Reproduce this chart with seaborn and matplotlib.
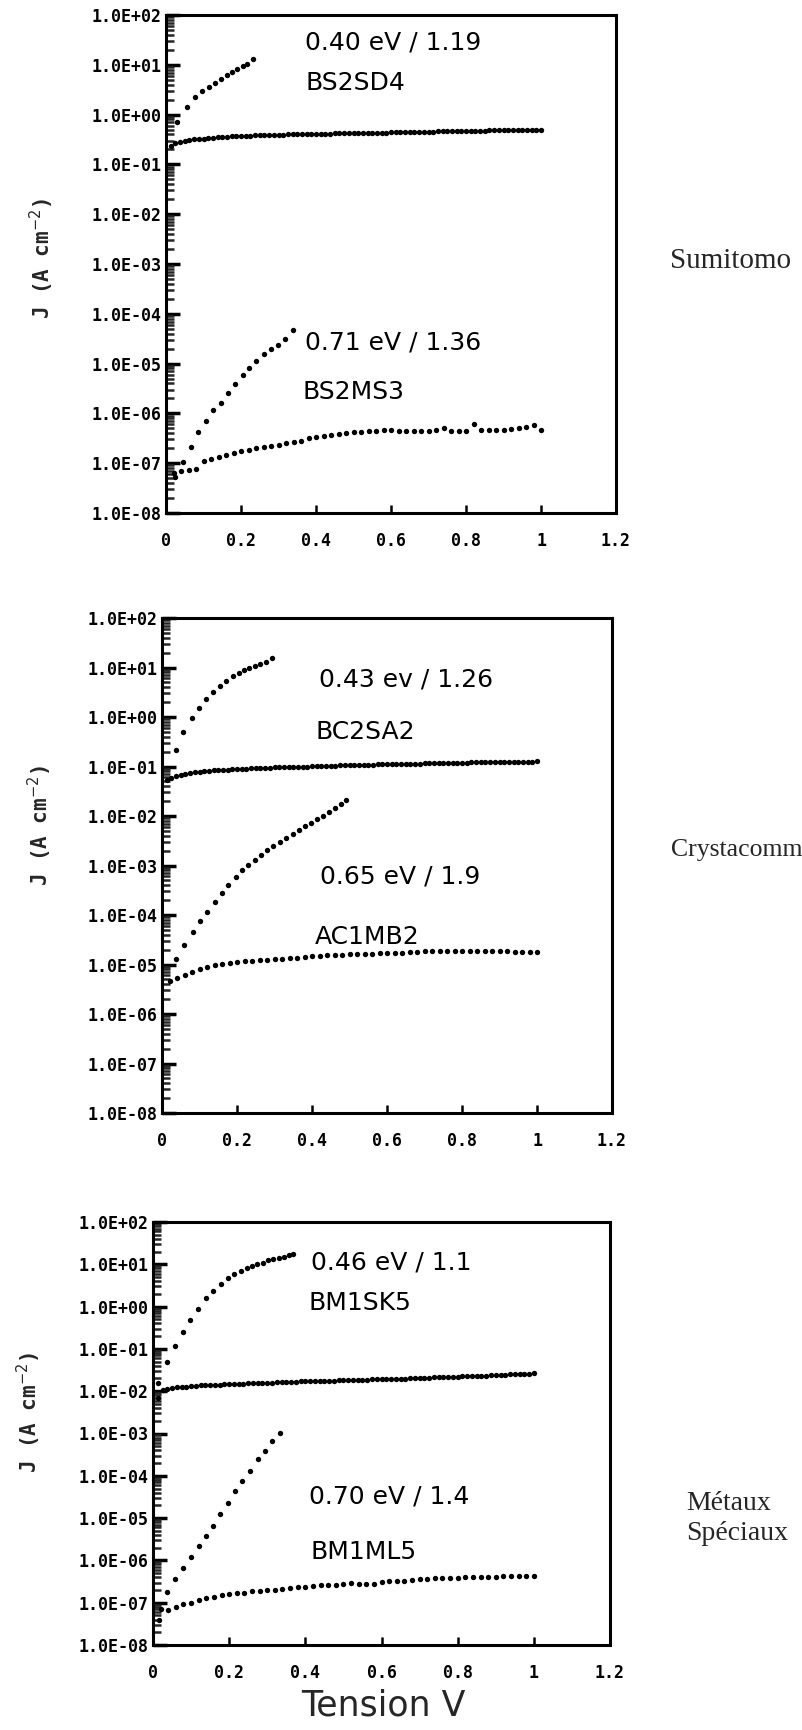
import numpy as np
import matplotlib
matplotlib.use("Agg")
import matplotlib.pyplot as plt
import seaborn as sns
from matplotlib.ticker import FixedLocator, LogLocator, NullFormatter, FuncFormatter

# voltage sweeps (V)
V_FINE = [0.0125, 0.025, 0.0375, 0.05, 0.0625, 0.075, 0.0875, 0.1, 0.1125, 0.125,
          0.1375, 0.15, 0.1625, 0.175, 0.1875, 0.2, 0.2125, 0.225, 0.2375, 0.25,
          0.2625, 0.275, 0.2875, 0.3, 0.3125, 0.325, 0.3375, 0.35, 0.3625, 0.375,
          0.3875, 0.4, 0.4125, 0.425, 0.4375, 0.45, 0.4625, 0.475, 0.4875, 0.5,
          0.5125, 0.525, 0.5375, 0.55, 0.5625, 0.575, 0.5875, 0.6, 0.6125, 0.625,
          0.6375, 0.65, 0.6625, 0.675, 0.6875, 0.7, 0.7125, 0.725, 0.7375, 0.75,
          0.7625, 0.775, 0.7875, 0.8, 0.8125, 0.825, 0.8375, 0.85, 0.8625, 0.875,
          0.8875, 0.9, 0.9125, 0.925, 0.9375, 0.95, 0.9625, 0.975, 0.9875, 1.0]
V_COARSE = [0.02, 0.04, 0.06, 0.08, 0.10, 0.12, 0.14, 0.16, 0.18, 0.20,
            0.22, 0.24, 0.26, 0.28, 0.30, 0.32, 0.34, 0.36, 0.38, 0.40,
            0.42, 0.44, 0.46, 0.48, 0.50, 0.52, 0.54, 0.56, 0.58, 0.60,
            0.62, 0.64, 0.66, 0.68, 0.70, 0.72, 0.74, 0.76, 0.78, 0.80,
            0.82, 0.84, 0.86, 0.88, 0.90, 0.92, 0.94, 0.96, 0.98, 1.00]

# --- Sumitomo (log10 J) ---
SUM_A_V = [0.03, 0.055, 0.078, 0.097, 0.114, 0.13, 0.146, 0.162, 0.177, 0.19, 0.204, 0.217, 0.232]
SUM_A_LOGJ = [-0.15, 0.15, 0.35, 0.47, 0.56, 0.63, 0.72, 0.79, 0.85, 0.92, 0.97, 1.02, 1.11]
SUM_B_LOGJ = [-0.63, -0.58, -0.55, -0.53, -0.51, -0.50, -0.49, -0.48, -0.47, -0.46,
              -0.455, -0.45, -0.44, -0.435, -0.43, -0.43, -0.42, -0.42, -0.415, -0.41,
              -0.41, -0.405, -0.40, -0.40, -0.40, -0.395, -0.395, -0.39, -0.39, -0.39,
              -0.385, -0.385, -0.38, -0.38, -0.38, -0.375, -0.375, -0.375, -0.37, -0.37,
              -0.37, -0.365, -0.365, -0.365, -0.36, -0.36, -0.36, -0.355, -0.355, -0.35,
              -0.35, -0.35, -0.345, -0.345, -0.345, -0.34, -0.34, -0.335, -0.335, -0.335,
              -0.33, -0.33, -0.33, -0.325, -0.325, -0.32, -0.32, -0.32, -0.315, -0.315,
              -0.315, -0.31, -0.31, -0.31, -0.305, -0.305, -0.305, -0.30, -0.30, -0.30]
SUM_C_V = [0.025, 0.045, 0.066, 0.085, 0.106, 0.126, 0.147, 0.166, 0.183, 0.204,
           0.221, 0.24, 0.261, 0.28, 0.299, 0.318, 0.338]
SUM_C_LOGJ = [-7.28, -6.97, -6.68, -6.38, -6.15, -5.94, -5.79, -5.59, -5.41, -5.23,
              -5.08, -4.95, -4.81, -4.71, -4.62, -4.50, -4.33]
SUM_D_LOGJ = [-7.20, -7.15, -7.13, -7.12, -6.95, -6.91, -6.87, -6.84, -6.80, -6.76,
              -6.73, -6.70, -6.68, -6.66, -6.63, -6.60, -6.57, -6.55, -6.50, -6.47,
              -6.45, -6.43, -6.41, -6.40, -6.38, -6.37, -6.36, -6.35, -6.34, -6.34,
              -6.35, -6.35, -6.35, -6.35, -6.35, -6.34, -6.30, -6.35, -6.36, -6.35,
              -6.21, -6.33, -6.34, -6.34, -6.33, -6.31, -6.30, -6.27, -6.24, -6.33]

# --- Crystacomm ---
CRY_A_V = [0.038, 0.057, 0.079, 0.098, 0.117, 0.136, 0.154, 0.171, 0.189, 0.205,
           0.219, 0.233, 0.248, 0.262, 0.276, 0.292]
CRY_A_LOGJ = [-0.66, -0.30, -0.03, 0.19, 0.36, 0.51, 0.63, 0.72, 0.82, 0.89,
              0.94, 0.99, 1.03, 1.07, 1.12, 1.20]
CRY_B_LOGJ = [-1.28, -1.23, -1.20, -1.18, -1.15, -1.13, -1.12, -1.11, -1.10, -1.09,
              -1.08, -1.075, -1.07, -1.065, -1.06, -1.055, -1.05, -1.045, -1.04, -1.04,
              -1.035, -1.03, -1.025, -1.02, -1.02, -1.015, -1.01, -1.01, -1.005, -1.0,
              -1.0, -0.995, -0.99, -0.99, -0.985, -0.98, -0.98, -0.975, -0.975, -0.97,
              -0.97, -0.965, -0.965, -0.96, -0.96, -0.955, -0.955, -0.95, -0.95, -0.95,
              -0.945, -0.945, -0.94, -0.94, -0.94, -0.935, -0.935, -0.93, -0.93, -0.93,
              -0.925, -0.925, -0.92, -0.92, -0.92, -0.915, -0.915, -0.915, -0.91, -0.91,
              -0.91, -0.91, -0.905, -0.905, -0.905, -0.90, -0.90, -0.90, -0.90, -0.895]
CRY_C_V = [0.037, 0.058, 0.082, 0.10, 0.119, 0.14, 0.16, 0.177, 0.197, 0.214,
           0.23, 0.248, 0.265, 0.281, 0.297, 0.314, 0.331, 0.348, 0.365, 0.381,
           0.397, 0.412, 0.429, 0.445, 0.46, 0.476, 0.49]
CRY_C_LOGJ = [-4.89, -4.61, -4.35, -4.13, -3.93, -3.74, -3.56, -3.39, -3.24, -3.10,
              -2.98, -2.88, -2.78, -2.69, -2.61, -2.53, -2.45, -2.37, -2.29, -2.21,
              -2.14, -2.07, -1.99, -1.91, -1.83, -1.75, -1.67]
CRY_D_LOGJ = [-5.34, -5.28, -5.21, -5.15, -5.09, -5.05, -5.01, -4.98, -4.96, -4.94,
              -4.93, -4.92, -4.91, -4.90, -4.89, -4.88, -4.87, -4.86, -4.85, -4.83,
              -4.82, -4.81, -4.80, -4.80, -4.79, -4.79, -4.78, -4.78, -4.77, -4.77,
              -4.76, -4.76, -4.75, -4.74, -4.73, -4.73, -4.72, -4.72, -4.72, -4.72,
              -4.72, -4.72, -4.73, -4.73, -4.73, -4.73, -4.74, -4.74, -4.74, -4.74]

# --- Metaux Speciaux ---
MET_A_V = [0.014, 0.037, 0.058, 0.078, 0.098, 0.117, 0.138, 0.157, 0.178, 0.197, 0.214,
           0.23, 0.246, 0.26, 0.274, 0.288, 0.302, 0.316, 0.33, 0.344, 0.358, 0.368]
MET_A_LOGJ = [-1.80, -1.32, -0.94, -0.61, -0.31, -0.06, 0.20, 0.37, 0.53, 0.67, 0.76,
              0.85, 0.91, 0.96, 1.00, 1.04, 1.09, 1.12, 1.15, 1.18, 1.21, 1.24]
MET_B_LOGJ = [-2.15, -1.96, -1.94, -1.92, -1.91, -1.90, -1.89, -1.88, -1.87, -1.865,
              -1.86, -1.855, -1.85, -1.845, -1.84, -1.835, -1.83, -1.825, -1.82, -1.815,
              -1.81, -1.805, -1.80, -1.80, -1.795, -1.79, -1.785, -1.78, -1.78, -1.775,
              -1.77, -1.77, -1.765, -1.76, -1.76, -1.755, -1.75, -1.75, -1.745, -1.74,
              -1.74, -1.735, -1.73, -1.73, -1.725, -1.72, -1.72, -1.715, -1.71, -1.71,
              -1.705, -1.70, -1.70, -1.695, -1.69, -1.685, -1.68, -1.68, -1.675, -1.67,
              -1.665, -1.66, -1.66, -1.655, -1.65, -1.645, -1.64, -1.64, -1.635, -1.63,
              -1.625, -1.62, -1.615, -1.61, -1.605, -1.60, -1.595, -1.59, -1.585, -1.58]
MET_C_V = [0.016, 0.036, 0.057, 0.078, 0.099, 0.12, 0.139, 0.158, 0.177, 0.196,
           0.215, 0.234, 0.255, 0.275, 0.293, 0.312, 0.333]
MET_C_LOGJ = [-7.40, -6.74, -6.44, -6.18, -5.92, -5.66, -5.42, -5.18, -4.90, -4.64,
              -4.37, -4.12, -3.88, -3.61, -3.41, -3.18, -2.98]
MET_D_LOGJ = [-7.16, -7.17, -7.10, -7.04, -7.00, -6.94, -6.90, -6.86, -6.82, -6.79,
              -6.78, -6.76, -6.73, -6.72, -6.70, -6.69, -6.67, -6.65, -6.64, -6.62,
              -6.61, -6.59, -6.58, -6.57, -6.56, -6.54, -6.55, -6.56, -6.55, -6.50,
              -6.48, -6.49, -6.48, -6.46, -6.45, -6.44, -6.42, -6.42, -6.41, -6.41,
              -6.40, -6.40, -6.40, -6.39, -6.39, -6.38, -6.38, -6.37, -6.36, -6.36]

X_TICKS = [0, 0.2, 0.4, 0.6, 0.8, 1.0, 1.2]
X_TICK_LABELS = ['0', '0.2', '0.4', '0.6', '0.8', '1', '1.2']
Y_DECADES = [-8, -7, -6, -5, -4, -3, -2, -1, 0, 1, 2]

FIG_W, FIG_H = 802, 1730
MONO = 'DejaVu Sans Mono'


def px_box(left, top, right, bottom):
    """pixel box -> figure fraction rect"""
    return [left / FIG_W, 1 - bottom / FIG_H, (right - left) / FIG_W, (bottom - top) / FIG_H]


def draw_panel(ax, series, notes, ylabel_pos):
    ax.set_yscale('log')
    for v, logj in series:
        sns.scatterplot(x=v[:len(logj)], y=np.power(10.0, logj), ax=ax, color='black',
                        s=15, linewidth=0, marker='o', legend=False)
    ax.set_xlim(0, 1.2)
    ax.set_ylim(1e-8, 1e2)

    ax.yaxis.set_major_locator(FixedLocator([10.0 ** k for k in Y_DECADES]))
    ax.yaxis.set_major_formatter(FuncFormatter(lambda y, _: f"1.0E{int(round(np.log10(y))):+03d}"))
    ax.yaxis.set_minor_locator(LogLocator(base=10, subs=np.arange(2, 10), numticks=30))
    ax.yaxis.set_minor_formatter(NullFormatter())
    ax.set_xticks(X_TICKS, labels=X_TICK_LABELS)

    ax.tick_params(axis='y', which='major', direction='in', length=10, width=2.5,
                   left=True, right=False, pad=3, labelsize=12)
    ax.tick_params(axis='y', which='minor', direction='in', length=6, width=1.8,
                   left=True, right=False)
    ax.tick_params(axis='x', which='major', direction='in', length=6, width=1.8,
                   bottom=True, top=False, pad=14, labelsize=12)
    ax.tick_params(colors='black')
    for lab in ax.get_xticklabels() + ax.get_yticklabels():
        lab.set_fontfamily(MONO)
        lab.set_fontweight('bold')

    for s in ax.spines.values():
        s.set_visible(True)
        s.set_color('black')
        s.set_linewidth(2.2)

    ax.set_xlabel('')
    ax.set_ylabel('J (A cm$^{-2}$)', fontsize=15, fontweight='bold', family=MONO)
    ax.yaxis.set_label_coords(*ylabel_pos)

    for x, y, txt in notes:
        ax.text(x, y, txt, transform=ax.transAxes, fontsize=18, ha='left', va='center',
                family='DejaVu Sans', color='black')
    ax.set_facecolor('white')


sns.set_style('ticks')
fig = plt.figure(figsize=(FIG_W / 100, FIG_H / 100), dpi=100, facecolor='white')

ax1 = fig.add_axes(px_box(166, 15, 616, 513))
ax2 = fig.add_axes(px_box(162, 618, 612, 1113))
ax3 = fig.add_axes(px_box(153, 1222, 610, 1645))

draw_panel(ax1,
           [(SUM_A_V, SUM_A_LOGJ), (V_FINE, SUM_B_LOGJ), (SUM_C_V, SUM_C_LOGJ), (V_COARSE, SUM_D_LOGJ)],
           [(0.309, 0.944, '0.40 eV / 1.19'), (0.311, 0.863, 'BS2SD4'),
            (0.309, 0.343, '0.71 eV / 1.36'), (0.304, 0.243, 'BS2MS3')],
           (-0.245, 0.51))
draw_panel(ax2,
           [(CRY_A_V, CRY_A_LOGJ), (V_FINE, CRY_B_LOGJ), (CRY_C_V, CRY_C_LOGJ), (V_COARSE, CRY_D_LOGJ)],
           [(0.349, 0.875, '0.43 ev / 1.26'), (0.34, 0.770, 'BC2SA2'),
            (0.351, 0.477, '0.65 eV / 1.9'), (0.34, 0.356, 'AC1MB2')],
           (-0.24, 0.58))
draw_panel(ax3,
           [(MET_A_V, MET_A_LOGJ), (V_FINE, MET_B_LOGJ), (MET_C_V, MET_C_LOGJ), (V_COARSE, MET_D_LOGJ)],
           [(0.346, 0.905, '0.46 eV / 1.1'), (0.341, 0.809, 'BM1SK5'),
            (0.341, 0.35, '0.70 eV / 1.4'), (0.344, 0.22, 'BM1ML5')],
           (-0.24, 0.55))

# supplier names on the right
serif = 'Liberation Serif'
fig.text(670 / FIG_W, 1 - 261 / FIG_H, 'Sumitomo', fontsize=21, family=serif, ha='left', va='center')
fig.text(671 / FIG_W, 1 - 850 / FIG_H, 'Crystacomm', fontsize=18.5, family=serif, ha='left', va='center')
fig.text(686 / FIG_W, 1 - 1503 / FIG_H, 'Métaux', fontsize=20, family=serif, ha='left', va='center')
fig.text(686 / FIG_W, 1 - 1533 / FIG_H, 'Spéciaux', fontsize=20, family=serif, ha='left', va='center')

fig.text(383 / FIG_W, 1 - 1706 / FIG_H, 'Tension V', fontsize=25, family='DejaVu Sans',
         ha='center', va='center')

fig.savefig('out.png', dpi=100, facecolor='white')
